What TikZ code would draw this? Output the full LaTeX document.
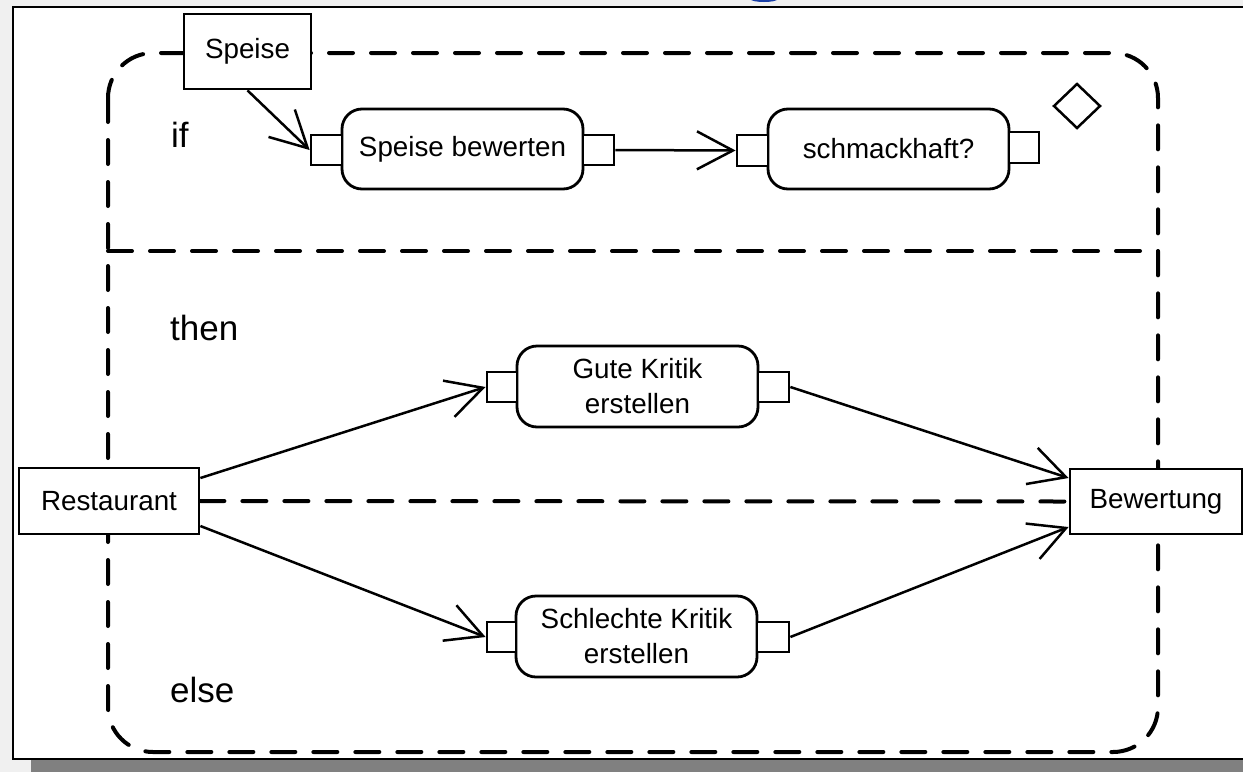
\documentclass[tikz,border=0pt]{standalone}
\usepackage{fontspec}
\setmainfont{Liberation Sans}
\usetikzlibrary{arrows.meta}

\definecolor{pagegray}{HTML}{F0F0F0}
\definecolor{shadowgray}{HTML}{808080}
\definecolor{titleblue}{HTML}{1A40A8}

\tikzset{
  nodefont/.style={font=\fontsize{27.8pt}{35pt}\selectfont},
  objbox/.style={draw, fill=white, line width=2.8pt, inner sep=0pt, nodefont},
  action/.style={draw, fill=white, line width=2.8pt, rounded corners=20pt,
                 minimum width=241pt, minimum height=80pt, inner sep=0pt,
                 align=center, nodefont},
  pinbox/.style={draw, fill=white, line width=2.8pt, inner sep=0pt,
                 minimum width=30pt, minimum height=30pt},
  flow/.style={line width=2.5pt, -{Straight Barb[length=36pt,width=38pt,line width=2.5pt]}},
  regionline/.style={line width=4pt, line cap=round, dash pattern=on 24pt off 18pt},
  sectionlabel/.style={anchor=base west, inner sep=0pt, font=\fontsize{35pt}{42pt}\selectfont}
}

\begin{document}
\begin{tikzpicture}[x=1pt, y=-1pt]
  % page background, frame and its shadow
  \useasboundingbox (0,0) rectangle (1243,772);
  \fill[pagegray] (0,0) rectangle (1243,772);
  \fill[shadowgray] (31,760) rectangle (1243,772);
  \fill[white] (13,7) rectangle (1243,759);
  \draw[line width=2.8pt] (1250,7) -- (13,7) -- (13,759) -- (1250,759);
  % descender of the cut-off heading
  \fill[titleblue] (750,-1) .. controls (752,3) and (776,3) .. (778,-1) -- cycle;

  % expansion region with its if/then divider
  \draw[regionline, rounded corners=45pt] (108,53) rectangle (1158,752);
  \draw[regionline] (108,251) -- (1158,251);

  \node[sectionlabel] (lif)   at (171,147) {if};
  \node[sectionlabel] (lthen) at (170,340) {then};
  \node[sectionlabel] (lelse) at (170,702) {else};

  % object nodes
  \node[objbox, minimum width=127pt, minimum height=75pt] (speise) at (247.5,51.5) {Speise};
  \node[objbox, minimum width=180pt, minimum height=66pt] (rest) at (109,501) {Restaurant};
  \node[objbox, minimum width=172pt, minimum height=65pt] (bew) at (1156,501.5) {Bewertung};

  % actions with their pins
  \node[action] (sb) at (462.5,149) {Speise bewerten};
  \node[pinbox, minimum width=31pt] (sbL) at (326.5,150) {};
  \node[pinbox, minimum width=31pt] (sbR) at (598.5,150) {};

  \node[action] (sm) at (888.5,149) {schmackhaft?};
  \node[pinbox, minimum width=31pt, minimum height=31pt] (smL) at (752.5,150.5) {};
  \node[pinbox, minimum height=31pt] (smR) at (1024,147.5) {};

  \node[action, minimum height=81pt] (gk) at (637.5,386.5) {Gute Kritik\\erstellen};
  \node[pinbox] (gkL) at (502,387) {};
  \node[pinbox, minimum width=31pt] (gkR) at (773.5,387) {};

  \node[action, minimum height=81pt] (sk) at (636.5,636.5) {Schlechte Kritik\\erstellen};
  \node[pinbox, minimum width=29pt] (skL) at (501.5,637) {};
  \node[pinbox, minimum width=32pt] (skR) at (773,637) {};

  % decision marker
  \draw[line width=2.5pt] (1054,106) -- (1077,84) -- (1100,106) -- (1077,128) -- cycle;

  % object and control flows
  \draw[flow] (speise.south) -- (sbL.west);
  \draw[flow] (sbR.east) -- (smL.west);
  \draw[flow] ([yshift=23pt]rest.east) -- (gkL.west);
  \draw[flow] ([yshift=-25pt]rest.east) -- (skL.west);
  \draw[flow] (gkR.east) -- ([yshift=23.5pt]bew.west);
  \draw[flow] (skR.east) -- ([yshift=-25.5pt]bew.west);
  \draw[regionline] (rest.east) -- (bew.west);
\end{tikzpicture}
\end{document}
